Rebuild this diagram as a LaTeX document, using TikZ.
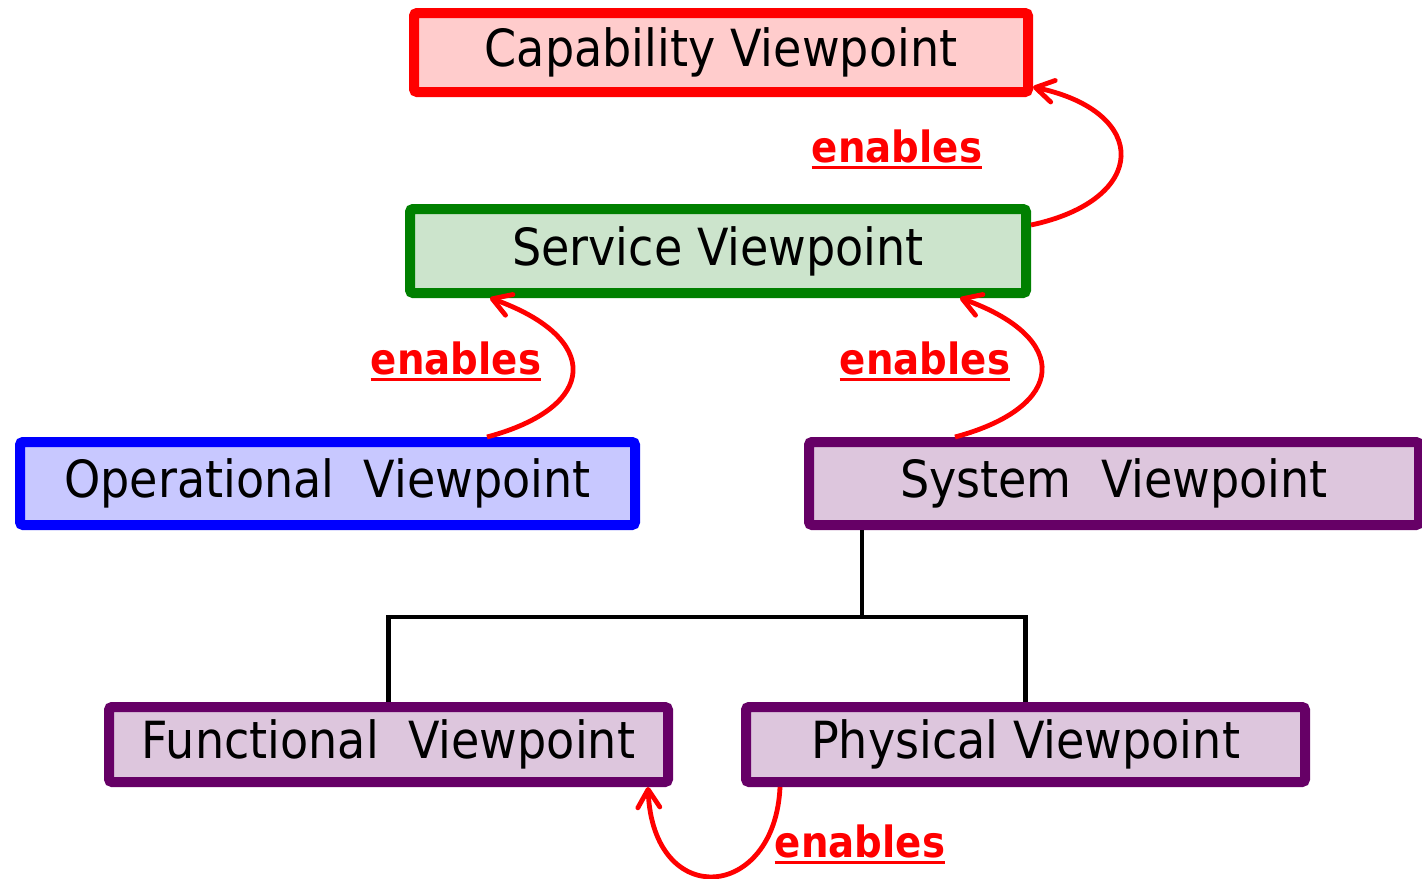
\documentclass[tikz,border=0pt]{standalone}
\usepackage{fontspec}
\setmainfont{DejaVu Sans}[FakeStretch=0.9]
\usetikzlibrary{arrows.meta}

\definecolor{capline}{HTML}{FF0000}
\definecolor{capfill}{HTML}{FFCCCC}
\definecolor{svcline}{HTML}{008000}
\definecolor{svcfill}{HTML}{CCE4CC}
\definecolor{opsline}{HTML}{0000FF}
\definecolor{opsfill}{HTML}{C8C8FF}
\definecolor{sysline}{HTML}{660066}
\definecolor{sysfill}{HTML}{DDC6DD}

\begin{document}
\begin{tikzpicture}
  [x=0.5pt,y=-0.5pt,
   view/.style={draw,line width=5pt,rounded corners=1.5pt,inner sep=0pt,
     minimum width=307pt,minimum height=41.5pt,font=\fontsize{25.6pt}{30pt}\selectfont},
   enable/.style={draw=capline,line width=2.4pt,
     -{Straight Barb[length=9pt,width=11pt,round]}},
   tree/.style={draw=black,line width=2.4pt},
   lbl/.style={inner sep=0pt,anchor=base,text=capline,font=\fontsize{21.5pt}{25pt}\selectfont\bfseries},
   lblline/.style={draw=capline,line width=1.5pt}]
  \useasboundingbox (0,0) rectangle (1422,878);

  % the viewpoints
  \node[view,draw=capline,fill=capfill,minimum height=39.5pt] (cap) at (721,52.5) {Capability Viewpoint};
  \node[view,draw=svcline,fill=svcfill,minimum width=308pt,minimum height=42pt] (svc) at (718,251) {Service Viewpoint};
  \node[view,draw=opsline,fill=opsfill,minimum width=307.5pt] (ops) at (327.5,483.5) {Operational\ \ Viewpoint};
  \node[view,draw=sysline,fill=sysfill,minimum width=305pt] (sys) at (1114,483.5) {System\ \ Viewpoint};
  \node[view,draw=sysline,fill=sysfill,minimum width=279.5pt,minimum height=37.5pt] (fun) at (388.5,744.5) {Functional\ \ Viewpoint};
  \node[view,draw=sysline,fill=sysfill,minimum width=279.5pt,minimum height=37.5pt] (phy) at (1025.5,744.5) {Physical Viewpoint};

  % system split into functional and physical
  \coordinate (split) at (862,617);
  \draw[tree] (sys.south -| split) -- (split);
  \draw[tree] (fun.north) |- (split) -| (phy.north);

  % enables arrows
  \draw[enable] ([yshift=13pt]svc.east) .. controls +(118,-25) and +(118,25) .. ([yshift=-17.25pt]cap.east);
  \draw[enable] ([xshift=79.75pt]ops.north) .. controls +(112,-30) and +(112,40) .. ([xshift=-114pt]svc.south);
  \draw[enable] ([xshift=-79.5pt]sys.north) .. controls +(112,-30) and +(112,40) .. ([xshift=121pt]svc.south);
  \draw[enable] ([xshift=-122.75pt]phy.south) .. controls +(-5,114) and +(5,124) .. ([xshift=129.75pt]fun.south);

  \node[lbl] (en1) at (897,162) {enables};
  \node[lbl] (en2) at (456,374) {enables};
  \node[lbl] (en3) at (925,374) {enables};
  \node[lbl] (en4) at (860,857) {enables};
  \foreach \n in {en1,en2,en3,en4}
    \draw[lblline] ([yshift=-2.75pt]\n.base west) -- ([yshift=-2.75pt]\n.base east);

\end{tikzpicture}
\end{document}
